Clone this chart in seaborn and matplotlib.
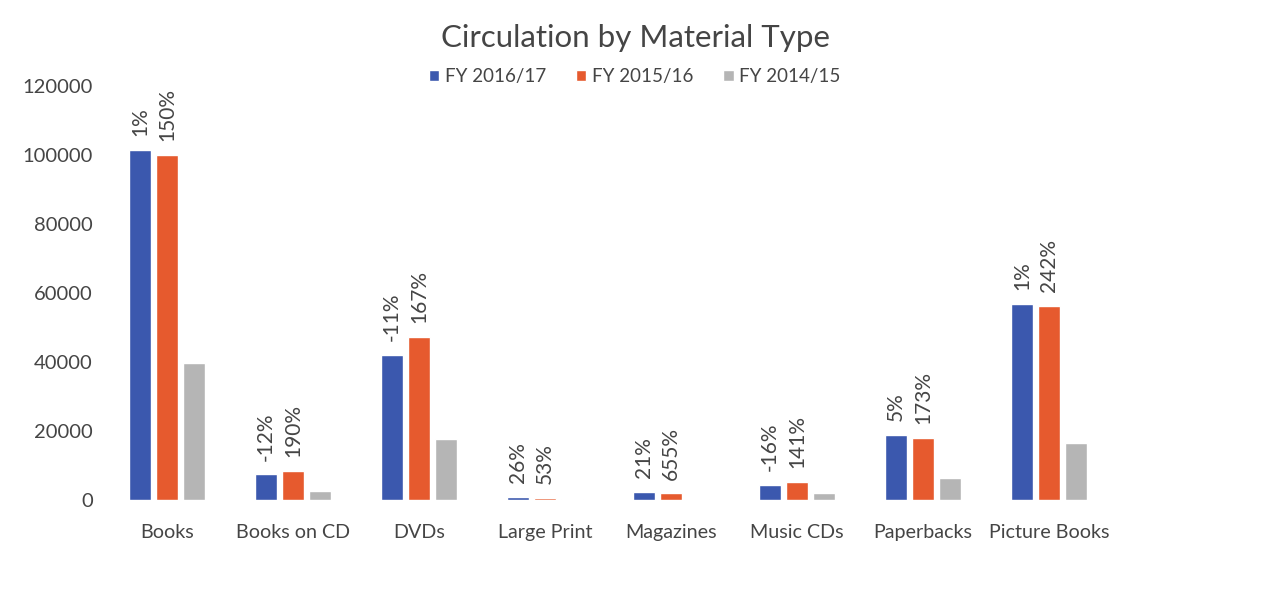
import matplotlib
matplotlib.use("Agg")
import matplotlib.pyplot as plt
import seaborn as sns
import pandas as pd

# Circulation counts per material type and fiscal year
categories = ["Books", "Books on CD", "DVDs", "Large Print", "Magazines",
              "Music CDs", "Paperbacks", "Picture Books"]
fy_2016_17 = [101400, 7400, 42000, 1000, 2400, 4300, 18800, 56700]
fy_2015_16 = [100000, 8500, 47200, 500, 1900, 5300, 18100, 56200]
fy_2014_15 = [39800, 2600, 17600, 300, 250, 2000, 6400, 16400]

series_names = ["FY 2016/17", "FY 2015/16", "FY 2014/15"]
colors = ["#3B58AE", "#E65A2E", "#B5B5B5"]

# Year-over-year change labels shown above the two newest years
change_2016_17 = ["1%", "-12%", "-11%", "26%", "21%", "-16%", "5%", "1%"]
change_2015_16 = ["150%", "190%", "167%", "53%", "655%", "141%", "173%", "242%"]

y_ticks = [0, 20000, 40000, 60000, 80000, 100000, 120000]

df = pd.DataFrame({
    "Material": categories * 3,
    "Year": [s for s in series_names for _ in categories],
    "Circulation": fy_2016_17 + fy_2015_16 + fy_2014_15,
})

sns.set_theme(style="white")
plt.rcParams["font.family"] = ["Lato", "DejaVu Sans"]
text_color = "#454545"

fig = plt.figure(figsize=(12.77, 6.08), dpi=100)
ax = fig.add_axes([0.0814, 0.1776, 0.7894, 0.681])

sns.barplot(data=df, x="Material", y="Circulation", hue="Year",
            order=categories, hue_order=series_names, palette=colors,
            width=0.64, gap=0.2, saturation=1, ax=ax, legend=True)

ax.set_ylim(0, 120000)
ax.set_xlim(-0.5, len(categories) - 0.5)
ax.set_yticks(y_ticks)
ax.set_yticklabels([str(t) for t in y_ticks])
ax.set_xlabel("")
ax.set_ylabel("")
for side in ["left", "right", "top", "bottom"]:
    ax.spines[side].set_visible(False)
ax.tick_params(axis="y", length=0, labelsize=14.5, colors=text_color, pad=8)
ax.tick_params(axis="x", length=0, labelsize=14.2, colors=text_color, pad=17)

for container, labels in zip(ax.containers[:2], [change_2016_17, change_2015_16]):
    ax.bar_label(container, labels=labels, rotation=90, padding=10,
                 fontsize=15, color=text_color)

handles, labels = ax.get_legend_handles_labels()
ax.legend_.remove()
fig.legend(handles, labels, loc="center", bbox_to_anchor=(0.497, 0.874),
           ncol=3, frameon=False, fontsize=13.5, handlelength=0.55,
           handleheight=0.55, handletextpad=0.3, columnspacing=1.6,
           labelcolor=text_color)

fig.text(0.498, 0.938, "Circulation by Material Type", ha="center",
         va="center", fontsize=22.5, color=text_color)

fig.savefig("out.png", dpi=100)
